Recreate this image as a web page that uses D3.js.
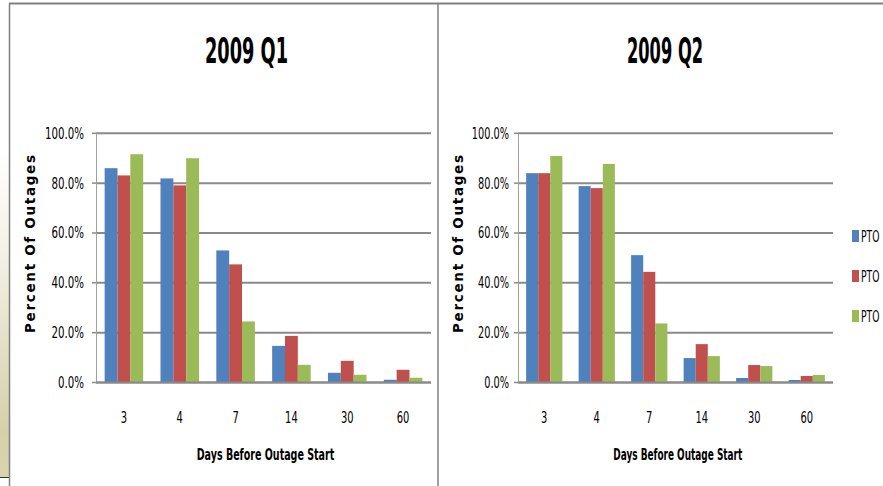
<!DOCTYPE html>
<html>
<head>
<meta charset="utf-8">
<script src="https://cdn.jsdelivr.net/npm/d3@7"></script>
<style>
  body { margin: 0; background: #fff; }
  svg { display: block; }
</style>
</head>
<body>
<div id="chart"></div>
<script>
// data (percent of outages)
var categories = ["3", "4", "7", "14", "30", "60"];
var seriesNames = ["PTO", "PTO", "PTO"];
var seriesColors = ["#4F81BD", "#C0504D", "#9BBB59"];
var q1Blue  = [86.0, 81.9, 53.0, 14.7, 3.9, 1.1];
var q1Red   = [83.1, 79.1, 47.4, 18.7, 8.7, 5.1];
var q1Green = [91.6, 90.0, 24.5, 7.1, 3.1, 1.9];
var q2Blue  = [84.0, 78.8, 51.1, 9.8, 1.8, 1.0];
var q2Red   = [84.0, 78.0, 44.4, 15.4, 7.0, 2.6];
var q2Green = [90.9, 87.7, 23.7, 10.6, 6.6, 3.0];
var yTicks = [0, 20, 40, 60, 80, 100];

var narrow = "'Liberation Sans Narrow','DejaVu Sans Condensed','Liberation Sans',sans-serif";

var svg = d3.select("#chart").append("svg")
  .attr("width", 883)
  .attr("height", 486);

// beige strip on the far left
var defs = svg.append("defs");
var grad = defs.append("linearGradient")
  .attr("id", "beige")
  .attr("x1", 0).attr("y1", 0).attr("x2", 0).attr("y2", 1);
grad.append("stop").attr("offset", "0%").attr("stop-color", "#ffffff");
grad.append("stop").attr("offset", "30%").attr("stop-color", "#f4f2e6");
grad.append("stop").attr("offset", "85%").attr("stop-color", "#d6d0aa");
grad.append("stop").attr("offset", "100%").attr("stop-color", "#d9d3b0");
svg.append("rect")
  .attr("x", 0).attr("y", 150).attr("width", 9).attr("height", 327)
  .attr("fill", "url(#beige)");
svg.append("line")
  .attr("x1", 0).attr("x2", 9).attr("y1", 477.5).attr("y2", 477.5)
  .attr("stroke", "#333").attr("stroke-width", 1);

// frame lines
svg.append("line")
  .attr("x1", 9).attr("x2", 883).attr("y1", 3.5).attr("y2", 3.5)
  .attr("stroke", "#808080").attr("stroke-width", 2);
svg.append("line")
  .attr("x1", 9.5).attr("x2", 9.5).attr("y1", 3).attr("y2", 486)
  .attr("stroke", "#808080").attr("stroke-width", 1.5);
svg.append("line")
  .attr("x1", 438).attr("x2", 438).attr("y1", 3).attr("y2", 486)
  .attr("stroke", "#808080").attr("stroke-width", 1.5);

var panels = [
  { title: "2009 Q1", series: [q1Blue, q1Red, q1Green],
    x0: 96, x1: 431, tickRight: 84, tickCharW: 6.5,
    titleX: 246.5, titleW: 83, yLabelX: 35, xTitleX: 265.5, xTitleW: 137.6 },
  { title: "2009 Q2", series: [q2Blue, q2Red, q2Green],
    x0: 518, x1: 833, tickRight: 509, tickCharW: 6.2,
    titleX: 665, titleW: 76, yLabelX: 462.5, xTitleX: 677.8, xTitleW: 129 }
];

var yTop = 133.3, yBot = 382.5;

panels.forEach(function (p) {
  var g = svg.append("g");

  var x = d3.scaleBand()
    .domain(categories)
    .range([p.x0, p.x1])
    .paddingInner(0.31)
    .paddingOuter(0.155);

  var xs = d3.scaleBand()
    .domain(d3.range(p.series.length))
    .range([0, x.bandwidth()]);

  var y = d3.scaleLinear()
    .domain([0, 100])
    .range([yBot, yTop]);

  // gridlines
  g.selectAll(".grid")
    .data(yTicks)
    .enter()
    .append("line")
    .attr("class", "grid")
    .attr("x1", p.x0)
    .attr("x2", p.x1)
    .attr("y1", function (d) { return y(d); })
    .attr("y2", function (d) { return y(d); })
    .attr("stroke", "#8a8a8a")
    .attr("stroke-width", 2);

  // y axis line + ticks
  g.append("line")
    .attr("x1", p.x0 + 0.5).attr("x2", p.x0 + 0.5)
    .attr("y1", yTop).attr("y2", yBot)
    .attr("stroke", "#a0a0a0").attr("stroke-width", 1);
  g.selectAll(".ytick")
    .data(yTicks)
    .enter()
    .append("line")
    .attr("class", "ytick")
    .attr("x1", p.x0 - 4).attr("x2", p.x0)
    .attr("y1", function (d) { return y(d); })
    .attr("y2", function (d) { return y(d); })
    .attr("stroke", "#8a8a8a").attr("stroke-width", 1.5);

  g.selectAll(".ylab")
    .data(yTicks)
    .enter()
    .append("text")
    .attr("class", "ylab")
    .attr("x", p.tickRight)
    .attr("y", function (d) { return y(d) + 5.5; })
    .attr("text-anchor", "end")
    .style("font-family", narrow)
    .style("font-size", "16px")
    .attr("fill", "#000")
    .text(function (d) { return d.toFixed(1) + "%"; })
    .attr("textLength", function (d) { return (d.toFixed(1) + "%").length * p.tickCharW; })
    .attr("lengthAdjust", "spacingAndGlyphs");

  // bars
  var groups = g.selectAll(".cat")
    .data(categories)
    .enter()
    .append("g")
    .attr("class", "cat")
    .attr("transform", function (d) { return "translate(" + x(d) + ",0)"; });

  groups.selectAll("rect")
    .data(function (d, i) {
      return p.series.map(function (s, k) { return { k: k, v: s[i] }; });
    })
    .enter()
    .append("rect")
    .attr("x", function (d) { return xs(d.k); })
    .attr("y", function (d) { return y(d.v); })
    .attr("width", xs.bandwidth())
    .attr("height", function (d) { return y(0) - y(d.v); })
    .style("fill", function (d) { return seriesColors[d.k]; });

  // x axis line on top of bars
  g.append("line")
    .attr("x1", p.x0).attr("x2", p.x1)
    .attr("y1", y(0)).attr("y2", y(0))
    .attr("stroke", "#8a8a8a").attr("stroke-width", 2);

  g.selectAll(".xlab")
    .data(categories)
    .enter()
    .append("text")
    .attr("class", "xlab")
    .attr("x", function (d) { return x(d) + x.bandwidth() / 2; })
    .attr("y", 423.3)
    .attr("text-anchor", "middle")
    .style("font-family", narrow)
    .style("font-size", "16px")
    .text(function (d) { return d; })
    .attr("textLength", function (d) { return d.length * 6.3; })
    .attr("lengthAdjust", "spacingAndGlyphs");

  // titles
  g.append("text")
    .attr("x", p.titleX)
    .attr("y", 63.3)
    .attr("text-anchor", "middle")
    .style("font-family", narrow)
    .style("font-weight", "bold")
    .style("font-size", "35px")
    .attr("textLength", p.titleW)
    .attr("lengthAdjust", "spacingAndGlyphs")
    .text(p.title);

  g.append("text")
    .attr("x", p.xTitleX)
    .attr("y", 460)
    .attr("text-anchor", "middle")
    .style("font-family", narrow)
    .style("font-weight", "bold")
    .style("font-size", "15px")
    .attr("textLength", p.xTitleW)
    .attr("lengthAdjust", "spacingAndGlyphs")
    .text("Days Before Outage Start");

  g.append("text")
    .attr("transform", "translate(" + p.yLabelX + "," + 244 + ") rotate(-90)")
    .attr("text-anchor", "middle")
    .style("font-family", "'DejaVu Sans',sans-serif")
    .style("font-weight", "bold")
    .style("font-size", "13.5px")
    .attr("textLength", 178)
    .attr("lengthAdjust", "spacing")
    .text("Percent Of Outages");
});

// legend (right panel), squeezed horizontally so it fits the edge
var legend = svg.append("g");
legend.selectAll(".legend-rect")
  .data(seriesColors)
  .enter()
  .append("rect")
  .attr("class", "legend-rect")
  .attr("x", 852)
  .attr("y", function (d, i) { return 230 + i * 40; })
  .attr("width", 7)
  .attr("height", 12)
  .style("fill", function (d) { return d; });

legend.selectAll(".legend-text")
  .data(seriesNames)
  .enter()
  .append("text")
  .attr("class", "legend-text")
  .attr("transform", function (d, i) { return "translate(861," + (242 + i * 40) + ") scale(0.64,1)"; })
  .style("font-family", narrow)
  .style("font-size", "16px")
  .text(function (d) { return d; });
</script>
</body>
</html>
